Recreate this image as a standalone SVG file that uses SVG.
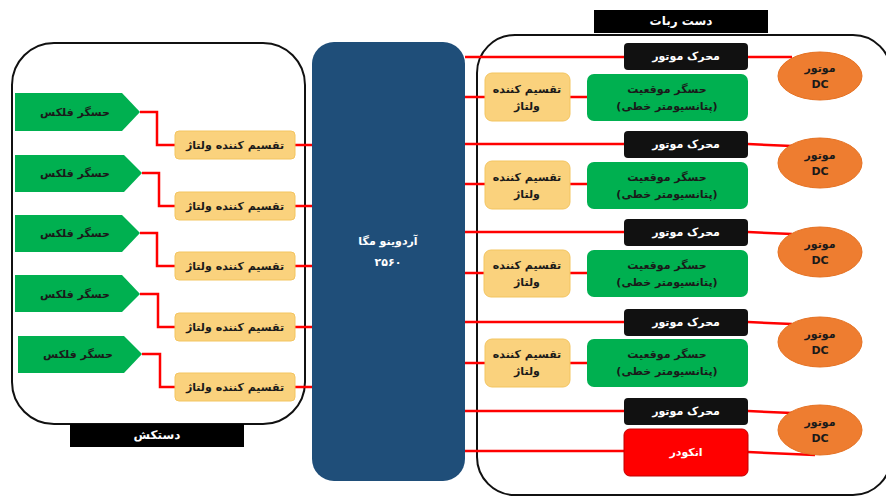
<svg xmlns="http://www.w3.org/2000/svg" width="886" height="498" viewBox="0 0 886 498">
<style>
text{font-family:"DejaVu Sans","Noto Sans",sans-serif;font-weight:bold;text-anchor:middle;dominant-baseline:central}
.cont{fill:#fff;stroke:#111;stroke-width:2}
.bar{fill:#000}
.bart{fill:#fff;font-size:12px}
.flex{fill:#00B050}
.vd{fill:#FAD27D;stroke:#F3C561;stroke-width:1}
.drv{fill:#111}
.pos{fill:#00B050}
.mot{fill:#EE7D30;stroke:#E57020;stroke-width:1}
.enc{fill:#FF0000;stroke:#C00000;stroke-width:1}
.t{font-size:11px;fill:#1a1a1a}
.tw{font-size:11px;fill:#fff}
.w{fill:none;stroke:#FF0000;stroke-width:2.5}
</style>
<rect class="cont" x="12" y="43" width="293" height="381" rx="42"/>
<rect class="cont" x="477" y="35" width="414" height="460" rx="38"/>
<g id="glove-label"><rect class="bar" x="70" y="424" width="174" height="23"/><text class="bart" x="157" y="435">دستکش</text></g>
<g id="robot-label"><rect class="bar" x="594" y="10" width="174" height="23"/><text class="bart" x="681" y="21">دست ربات</text></g>
<g id="connectors">
<path class="w" d="M140 112H157V145H175M295 145H312"/>
<path class="w" d="M142 173H159V206H175M295 206H312"/>
<path class="w" d="M140 233H157V266H175M295 266H312"/>
<path class="w" d="M140 294H158V327H175M295 327H312"/>
<path class="w" d="M142 354H160V387H175M295 387H312"/>
<path class="w" d="M465 57H624M748 57H792"/>
<path class="w" d="M465 97H485M570 97H587"/>
<path class="w" d="M465 144H624M748 144L792 146"/>
<path class="w" d="M465 184H485M570 184H587"/>
<path class="w" d="M465 232H624M748 232L792 234"/>
<path class="w" d="M465 273H485M570 273H587"/>
<path class="w" d="M465 322H624M748 322L792 324"/>
<path class="w" d="M465 363H485M570 363H587"/>
<path class="w" d="M465 411H624M748 411L792 413"/>
<path class="w" d="M465 451H624M748 452L815 455"/>
</g>
<g id="arduino"><rect x="312" y="42" width="153" height="439" rx="22" fill="#1F4E79"/><text class="tw" x="388" y="241" font-size="12">آردوینو مگا</text><text class="tw" x="388" y="262">۲۵۶۰</text></g>
<g id="flex1"><path class="flex" d="M15 93H122L140 112L122 131H15Z"/><text class="t" x="75" y="112">حسگر فلکس</text></g>
<g id="flex2"><path class="flex" d="M15 155H124L142 173L124 192H15Z"/><text class="t" x="75" y="173">حسگر فلکس</text></g>
<g id="flex3"><path class="flex" d="M15 215H122L140 233L122 252H15Z"/><text class="t" x="75" y="233">حسگر فلکس</text></g>
<g id="flex4"><path class="flex" d="M15 275H122L140 294L122 312H15Z"/><text class="t" x="75" y="294">حسگر فلکس</text></g>
<g id="flex5"><path class="flex" d="M18 336H124L142 354L124 373H18Z"/><text class="t" x="78" y="354">حسگر فلکس</text></g>
<g id="vd-l1"><rect class="vd" x="175" y="131" width="120" height="28" rx="4"/><text class="t" x="235" y="145">تقسیم کننده ولتاژ</text></g>
<g id="vd-l2"><rect class="vd" x="175" y="192" width="120" height="28" rx="4"/><text class="t" x="235" y="206">تقسیم کننده ولتاژ</text></g>
<g id="vd-l3"><rect class="vd" x="175" y="252" width="120" height="28" rx="4"/><text class="t" x="235" y="266">تقسیم کننده ولتاژ</text></g>
<g id="vd-l4"><rect class="vd" x="175" y="313" width="120" height="28" rx="4"/><text class="t" x="235" y="327">تقسیم کننده ولتاژ</text></g>
<g id="vd-l5"><rect class="vd" x="175" y="373" width="120" height="28" rx="4"/><text class="t" x="235" y="387">تقسیم کننده ولتاژ</text></g>
<g id="drv1"><rect class="drv" x="624" y="43" width="124" height="27" rx="4"/><text class="tw" x="686" y="56">محرک موتور</text></g>
<g id="drv2"><rect class="drv" x="624" y="131" width="124" height="27" rx="4"/><text class="tw" x="686" y="144">محرک موتور</text></g>
<g id="drv3"><rect class="drv" x="624" y="219" width="124" height="27" rx="4"/><text class="tw" x="686" y="232">محرک موتور</text></g>
<g id="drv4"><rect class="drv" x="624" y="309" width="124" height="27" rx="4"/><text class="tw" x="686" y="322">محرک موتور</text></g>
<g id="drv5"><rect class="drv" x="624" y="398" width="124" height="27" rx="4"/><text class="tw" x="686" y="411">محرک موتور</text></g>
<g id="pos1"><rect class="pos" x="587" y="74" width="161" height="47" rx="7"/><text class="t" x="667" y="89">حسگر موقعیت</text><text class="t" x="667" y="106">(پتانسیومتر خطی)</text></g>
<g id="pos2"><rect class="pos" x="587" y="162" width="161" height="47" rx="7"/><text class="t" x="667" y="177">حسگر موقعیت</text><text class="t" x="667" y="194">(پتانسیومتر خطی)</text></g>
<g id="pos3"><rect class="pos" x="587" y="250" width="161" height="47" rx="7"/><text class="t" x="667" y="265">حسگر موقعیت</text><text class="t" x="667" y="282">(پتانسیومتر خطی)</text></g>
<g id="pos4"><rect class="pos" x="587" y="339" width="161" height="48" rx="7"/><text class="t" x="667" y="354">حسگر موقعیت</text><text class="t" x="667" y="371">(پتانسیومتر خطی)</text></g>
<g id="vd-r1"><rect class="vd" x="485" y="73" width="85" height="48" rx="7"/><text class="t" x="527" y="89">تقسیم کننده</text><text class="t" x="527" y="106">ولتاژ</text></g>
<g id="vd-r2"><rect class="vd" x="485" y="161" width="85" height="48" rx="7"/><text class="t" x="527" y="177">تقسیم کننده</text><text class="t" x="527" y="194">ولتاژ</text></g>
<g id="vd-r3"><rect class="vd" x="484" y="250" width="86" height="47" rx="7"/><text class="t" x="527" y="265">تقسیم کننده</text><text class="t" x="527" y="282">ولتاژ</text></g>
<g id="vd-r4"><rect class="vd" x="485" y="339" width="85" height="48" rx="7"/><text class="t" x="527" y="354">تقسیم کننده</text><text class="t" x="527" y="371">ولتاژ</text></g>
<g id="encoder"><rect class="enc" x="624" y="429" width="124" height="47" rx="6"/><text class="tw" x="686" y="452">انکودر</text></g>
<g id="motor1"><ellipse class="mot" cx="820" cy="76" rx="42" ry="24"/><text class="t" x="820" y="68">موتور</text><text class="t" x="820" y="84">DC</text></g>
<g id="motor2"><ellipse class="mot" cx="820" cy="163" rx="42" ry="25"/><text class="t" x="820" y="155">موتور</text><text class="t" x="820" y="171">DC</text></g>
<g id="motor3"><ellipse class="mot" cx="820" cy="252" rx="42" ry="25"/><text class="t" x="820" y="244">موتور</text><text class="t" x="820" y="260">DC</text></g>
<g id="motor4"><ellipse class="mot" cx="820" cy="342" rx="42" ry="25"/><text class="t" x="820" y="334">موتور</text><text class="t" x="820" y="350">DC</text></g>
<g id="motor5"><ellipse class="mot" cx="820" cy="430" rx="42" ry="25"/><text class="t" x="820" y="422">موتور</text><text class="t" x="820" y="438">DC</text></g>
</svg>
